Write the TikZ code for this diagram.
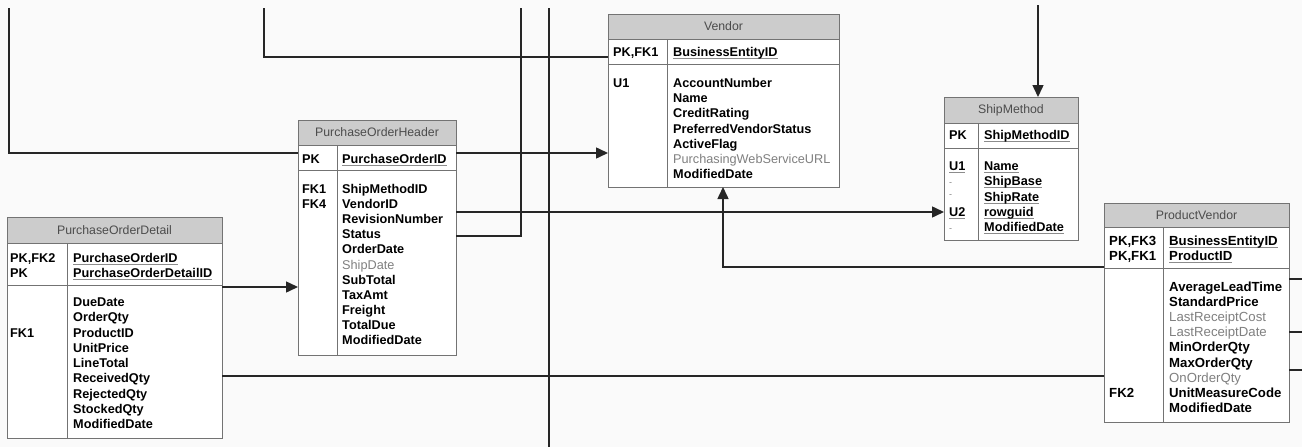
\documentclass[tikz,border=0pt]{standalone}
\usepackage{fontspec}
\setmainfont{Liberation Sans}
\usetikzlibrary{arrows.meta,calc}
\newcommand{\uln}[1]{\setbox0\hbox{#1}\rlap{\color{black!45}\rule[-2.4pt]{\wd0}{0.8pt}}\box0}
\newcommand{\opt}[1]{{\mdseries\color{black!50}#1}}
\tikzset{
 conn/.style={line width=1.5pt, draw=black!85},
 arr/.style={conn, -{Triangle[length=12pt,width=11pt]}},
 erline/.style={draw=black!55, line width=0.8pt},
 titlefill/.style={fill=black!20},
 titletext/.style={font=\fontsize{12.3}{14}\selectfont, text=black!70, inner sep=0pt},
 rowtext/.style={font=\fontsize{12.7}{15}\selectfont\bfseries, inner sep=0pt, anchor=base west},
 pvtext/.style={font=\fontsize{13.2}{15}\selectfont\bfseries, inner sep=0pt, anchor=base west},
 dashtext/.style={font=\fontsize{9}{10}\selectfont, text=black!50, inner sep=0pt, anchor=base west},
 erframe/.style={draw=black!55, line width=0.8pt, fill=white, inner sep=0pt, outer sep=0pt},
}
% name, left, top, right, bottom, title bottom, pk bottom, divider x, title
\newcommand{\erbox}[9]{%
 \node[erframe, minimum width={#4-#2}, minimum height={#5-#3}, anchor=north west] (#1) at (#2,#3) {};
 \fill[titlefill] (#2,#3) rectangle (#4,#6);
 \draw[erline] (#2,#3) rectangle (#4,#5);
 \draw[erline] (#2,#6) -- (#4,#6);
 \draw[erline] (#2,#7) -- (#4,#7);
 \draw[erline] (#8,#6) -- (#8,#5);
 \node[titletext] (#1-title) at ({(#2+#4)/2},{(#3+#6)/2}) {#9};
}
% name, x, first baseline, step, style, list
\newcommand{\rowsat}[6]{%
 \foreach \t [count=\i] in {#6} \node[#5] (#1-\i) at (#2,{#3+(\i-1)*#4}) {\t};
}
\begin{document}
\begin{tikzpicture}[x=1pt,y=-1pt]
\path[use as bounding box, fill=black!2] (0,0) rectangle (1302,447);

% tables
\erbox{pod}{7}{217}{222}{438}{243}{285}{67}{PurchaseOrderDetail}
\erbox{poh}{298}{120}{456}{355}{145}{170}{337}{PurchaseOrderHeader}
\erbox{vendor}{608}{14}{839}{187}{39}{64}{667}{Vendor}
\erbox{shipm}{944}{97}{1078}{240}{123}{148}{978}{ShipMethod}
\erbox{pv}{1104}{203}{1289}{422}{227}{268}{1163}{ProductVendor}

% PurchaseOrderDetail
\node[rowtext] (pod-k1) at (10,262.5) {PK,FK2};
\node[rowtext] (pod-k2) at (10,277) {PK};
\node[rowtext] (pod-k3) at (10,337) {FK1};
\rowsat{pod-p}{73}{262.5}{14.5}{rowtext}{\uln{PurchaseOrderID},\uln{PurchaseOrderDetailID}}
\rowsat{pod-b}{73}{306.5}{15.25}{rowtext}{DueDate,OrderQty,ProductID,UnitPrice,LineTotal,ReceivedQty,RejectedQty,StockedQty,ModifiedDate}

% PurchaseOrderHeader
\node[rowtext] (poh-k1) at (302,163.5) {PK};
\node[rowtext] (poh-k2) at (302,193.5) {FK1};
\node[rowtext] (poh-k3) at (302,208.6) {FK4};
\node[rowtext] (poh-p1) at (342,163.5) {\uln{PurchaseOrderID}};
\rowsat{poh-b}{342}{193.5}{15.1}{rowtext}{ShipMethodID,VendorID,RevisionNumber,Status,OrderDate,\opt{ShipDate},SubTotal,TaxAmt,Freight,TotalDue,ModifiedDate}

% Vendor
\node[rowtext] (vendor-k1) at (613,56.5) {PK,FK1};
\node[rowtext] (vendor-k2) at (613,87.5) {U1};
\node[rowtext] (vendor-p1) at (673,56.5) {\uln{BusinessEntityID}};
\rowsat{vendor-b}{673}{87.5}{15.17}{rowtext}{AccountNumber,Name,CreditRating,PreferredVendorStatus,ActiveFlag,\opt{PurchasingWebServiceURL},ModifiedDate}

% ShipMethod
\node[rowtext] (shipm-k1) at (949,139.5) {PK};
\node[rowtext] (shipm-k2) at (949,170.5) {\uln{U1}};
\node[dashtext] (shipm-k3) at (949,185.7) {-};
\node[dashtext] (shipm-k4) at (949,197.5) {-};
\node[rowtext] (shipm-k5) at (949,216.2) {\uln{U2}};
\node[dashtext] (shipm-k6) at (949,231.5) {-};
\node[rowtext] (shipm-p1) at (984,139.5) {\uln{ShipMethodID}};
\rowsat{shipm-b}{984}{170.5}{15.25}{rowtext}{\uln{Name},\uln{ShipBase},\uln{ShipRate},\uln{rowguid},\uln{ModifiedDate}}

% ProductVendor
\node[pvtext] (pv-k1) at (1109,245.5) {PK,FK3};
\node[pvtext] (pv-k2) at (1109,260.5) {PK,FK1};
\node[pvtext] (pv-k3) at (1109,397.2) {FK2};
\rowsat{pv-p}{1169}{245.5}{15}{pvtext}{\uln{BusinessEntityID},\uln{ProductID}}
\rowsat{pv-b}{1169}{291.5}{15.1}{pvtext}{AverageLeadTime,StandardPrice,\opt{LastReceiptCost},\opt{LastReceiptDate},MinOrderQty,MaxOrderQty,\opt{OnOrderQty},UnitMeasureCode,ModifiedDate}

% connector helper coordinates
\coordinate (ya) at (0,153);
\coordinate (yb) at (0,57);
\coordinate (yc) at (0,212);
\coordinate (yd) at (0,236);
\coordinate (ye) at (0,287);
\coordinate (yf) at (0,376);
\coordinate (yg) at (0,267);
\coordinate (xv) at (723,0);
\coordinate (c1) at (9,8);
\coordinate (c2) at (264,8);
\coordinate (c3) at (521,8);
\coordinate (c4) at (549,8);
\coordinate (c5) at (549,447);
\coordinate (c6) at (1038,5);
\coordinate (s1) at (1302,279);
\coordinate (s2) at (1302,332);
\coordinate (s3) at (1302,370);

% connectors
\draw[conn] (c1) |- (poh.west |- ya);
\draw[conn] (c2) |- (vendor.west |- yb);
\draw[arr] (poh.east |- ya) -- (vendor.west |- ya);
\draw[arr] (poh.east |- yc) -- (shipm.west |- yc);
\draw[conn] (poh.east |- yd) -| (c3);
\draw[conn] (c4) -- (c5);
\draw[arr] (pod.east |- ye) -- (poh.west |- ye);
\draw[conn] (pod.east |- yf) -- (pv.west |- yf);
\draw[arr] (pv.west |- yg) -| (vendor.south -| xv);
\draw[arr] (c6) -- (shipm.north -| c6);
\draw[conn] (pv.east |- s1) -- (s1);
\draw[conn] (pv.east |- s2) -- (s2);
\draw[conn] (pv.east |- s3) -- (s3);
\end{tikzpicture}
\end{document}
